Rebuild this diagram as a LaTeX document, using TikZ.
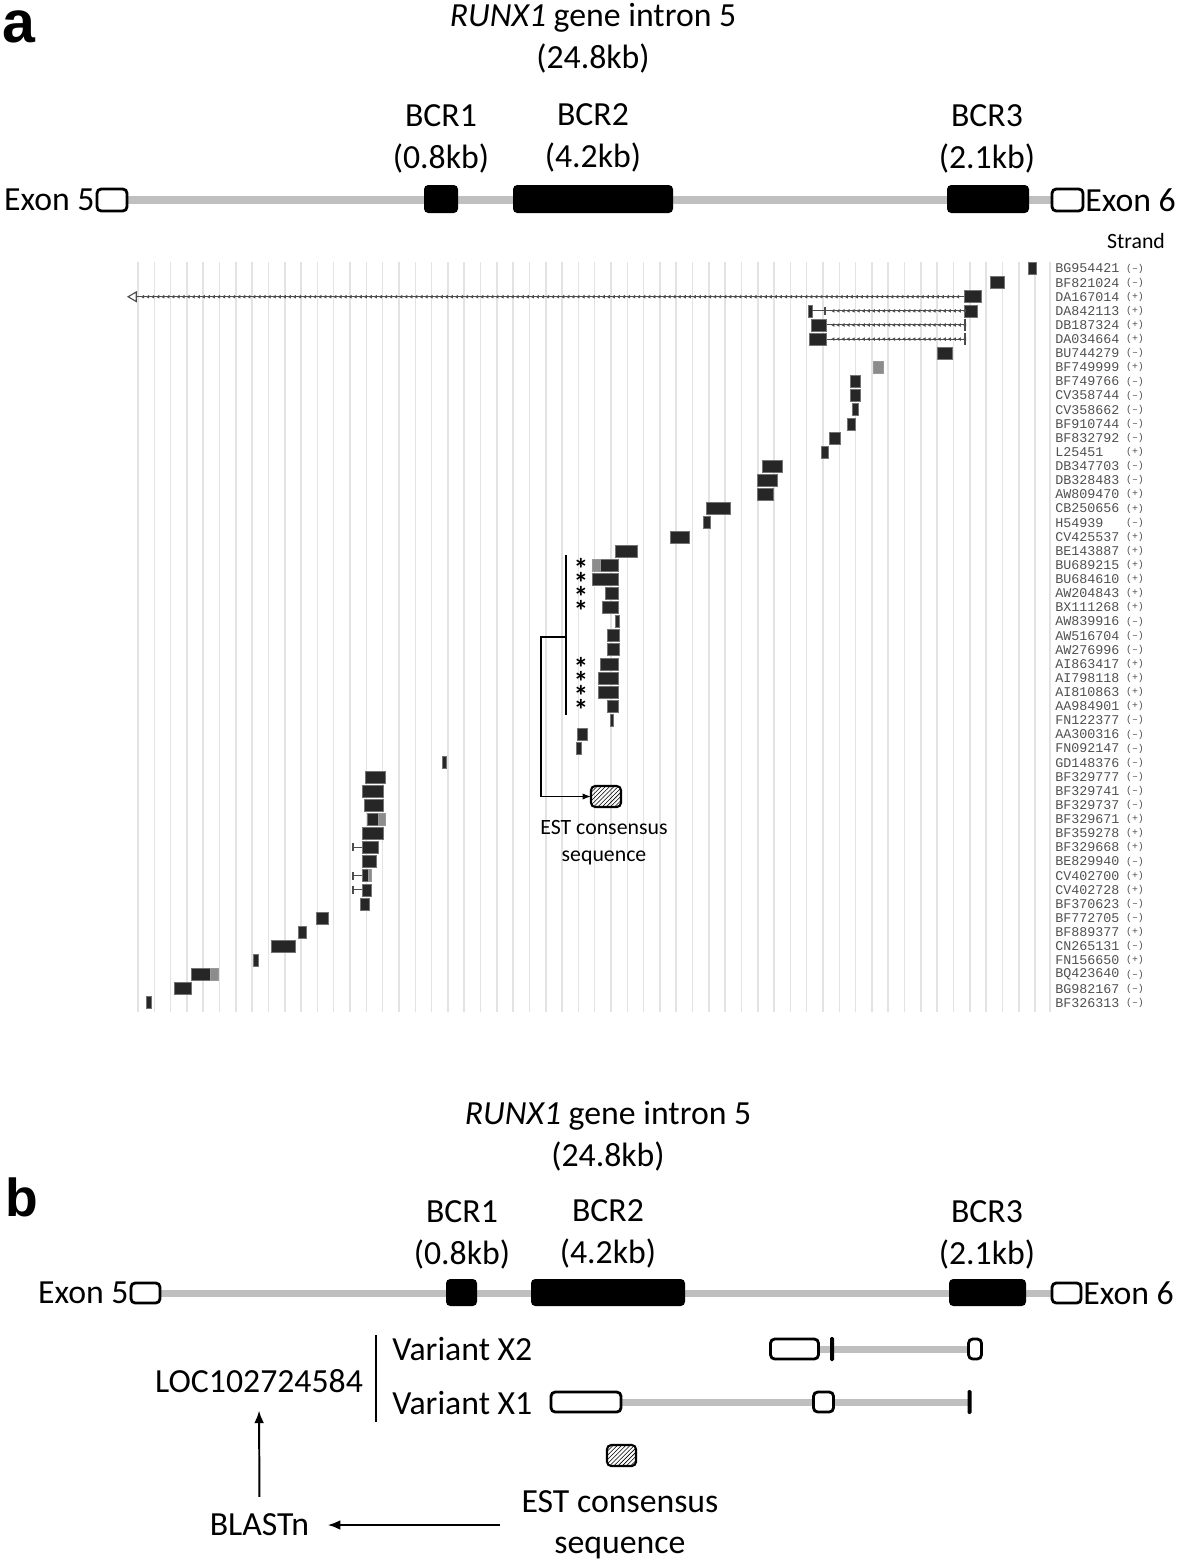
\documentclass[tikz,border=0pt]{standalone}
\usepackage{fontspec}
\setmainfont{Carlito}
\newfontfamily\accfont{Liberation Mono}
\newfontfamily\panelfont{Liberation Sans}
\usetikzlibrary{arrows.meta, positioning, calc, patterns, decorations.markings, backgrounds}

\definecolor{genegray}{HTML}{BFBFBF}
\definecolor{gridgray}{HTML}{E3E3E3}
\definecolor{accgray}{HTML}{505050}
\definecolor{bardark}{HTML}{262626}

\newcommand{\rowy}[1]{268.5+(#1-1)*14.12}

\begin{document}
\begin{tikzpicture}[
x=0.025cm, y=-0.025cm,
>=Stealth,
lbl/.style={font=\fontsize{24}{29.5}\selectfont, align=center, inner sep=0pt},
small/.style={font=\fontsize{15.5}{19}\selectfont, align=center, inner sep=0pt},
panel/.style={font=\panelfont\bfseries\fontsize{42}{42}\selectfont, inner sep=0pt},
gbox/.style n args={2}{minimum width=#1*0.025cm, minimum height=#2*0.025cm, inner sep=0pt, outer sep=0pt},
exon/.style={draw, line width=2pt, rounded corners=3pt, fill=white},
bcr/.style={fill=black, rounded corners=3pt},
intron/.style={genegray, line width=5pt},
gridline/.style={gridgray, line width=1.1pt},
estbar/.style={fill=bardark, draw=black!55, line width=0.4pt},
lightbar/.style={fill=black!45, draw=black!40, line width=0.4pt},
estline/.style={draw=black!70, line width=0.7pt, postaction={decorate, decoration={markings, mark=between positions 0.01 and 1 step 3.6pt with {\arrow{Latex[length=2.4pt,width=2.8pt]}}}}},
tick/.style={draw=black!70, line width=0.8pt},
acc/.style={font=\accfont\fontsize{9.5}{10}\selectfont, text=accgray, anchor=west, inner sep=0pt},
strand/.style={font=\accfont\fontsize{7}{8}\selectfont, text=accgray, inner sep=0pt},
star/.style={font=\fontsize{21}{21}\selectfont\bfseries, inner sep=0pt, text height=6pt, text depth=0pt},
hatch/.style={draw, line width=1.5pt, rounded corners=3pt, pattern=north east lines},
arr/.style={-{Latex[length=9pt,width=7pt]}, line width=1.4pt}
]
\useasboundingbox (0,0) rectangle (1181,1565);

% --- Panel a : gene model ---
\node[panel] (pa) at (19,27) {a};
\node[lbl] (titlea) at (593,38) {\textit{RUNX1} gene intron 5\\(24.8kb)};

\node[exon, gbox={30}{22}] (ex5a) at (112,200) {};
\node[bcr, gbox={34}{28}] (bcr1a) at (441,199) {};
\node[bcr, gbox={160}{28}] (bcr2a) at (593,199) {};
\node[bcr, gbox={82}{28}] (bcr3a) at (988,199) {};
\node[exon, gbox={31}{22}] (ex6a) at (1067.5,200) {};
\begin{pgfonlayer}{background}
\draw[intron] (ex5a.east) -- (ex6a.west);
\end{pgfonlayer}

\node[lbl, left=1.5pt of ex5a] (ex5lbla) {Exon 5};
\node[lbl, right=1.5pt of ex6a] (ex6lbla) {Exon 6};
\node[lbl] (bcr1lbla) at (441,139) {BCR1\\(0.8kb)};
\node[lbl] (bcr2lbla) at (593,138) {BCR2\\(4.2kb)};
\node[lbl] (bcr3lbla) at (987,139) {BCR3\\(2.1kb)};
\node[small] (strandhd) at (1136,241) {Strand};

% --- EST alignment grid ---
\foreach \k in {0,...,55}
  \draw[gridline] ({138+\k*16.31},262) -- ({138+\k*16.31},1012);
\draw[gridline] (1050,262) -- (1050,1012);

% --- EST hits (name / strand / start / end) ---
\foreach \nm/\st/\xa/\xb [count=\i] in {
BG954421/–/1028/1036, BF821024/–/990/1004, DA167014/+/964/981,
DA842113/+/964/977, DB187324/+/811/826, DA034664/+/809/826,
BU744279/–/937/952, BF749999/+/873/883, BF749766/–/850/860,
CV358744/–/850/860, CV358662/–/852/858, BF910744/–/847/855,
BF832792/–/829/840, L25451/+/821/828, DB347703/–/762/782,
DB328483/–/757/777, AW809470/+/757/773, CB250656/+/706/730,
H54939/–/703/710, CV425537/+/670/689, BE143887/+/615/637,
BU689215/+/592/618, BU684610/+/592/618, AW204843/+/605/618,
BX111268/+/602/618, AW839916/–/615/619, AW516704/–/607/619,
AW276996/–/607/619, AI863417/+/600/618, AI798118/+/598/618,
AI810863/+/598/618, AA984901/+/607/618, FN122377/–/610/613,
AA300316/–/577/587, FN092147/–/576/581, GD148376/–/442/446,
BF329777/–/365/385, BF329741/–/362/383, BF329737/–/364/383,
BF329671/+/367/385, BF359278/+/362/383, BF329668/+/362/378,
BE829940/–/362/376, CV402700/+/362/371, CV402728/+/362/371,
BF370623/–/360/369, BF772705/–/316/328, BF889377/+/298/306,
CN265131/–/271/295, FN156650/+/253/258, BQ423640/–/191/218,
BG982167/–/174/191, BF326313/–/146/151}{
  \path[estbar] (\xa,{\rowy{\i}-6}) rectangle (\xb,{\rowy{\i}+6});
  \node[acc] (acc\i) at (1055,{\rowy{\i}}) {\nm};
  \node[strand] (str\i) at (1135,{\rowy{\i}}) {(\st)};
}

% lighter pieces
\path[lightbar] (873,{\rowy{8}-6}) rectangle (883,{\rowy{8}+6});
\path[lightbar] (592,{\rowy{22}-6}) rectangle (600,{\rowy{22}+6});
\path[lightbar] (378,{\rowy{40}-6}) rectangle (385,{\rowy{40}+6});
\path[lightbar] (368,{\rowy{44}-6}) rectangle (371,{\rowy{44}+6});
\path[lightbar] (210,{\rowy{51}-6}) rectangle (218,{\rowy{51}+6});
\path[estbar] (808,{\rowy{4}-6}) rectangle (812,{\rowy{4}+6});

% spliced ESTs
\draw[estline] (964,{\rowy{3}}) -- (138,{\rowy{3}});
\draw[tick, -{Triangle[open,length=7pt,width=8pt]}] (146,{\rowy{3}}) -- (127,{\rowy{3}});
\draw[tick] (812,{\rowy{4}}) -- (825,{\rowy{4}});
\draw[tick] (825,{\rowy{4}-4}) -- (825,{\rowy{4}+4});
\draw[estline] (964,{\rowy{4}}) -- (826,{\rowy{4}});
\foreach \r in {5,6}{
  \draw[estline] (964,{\rowy{\r}}) -- (827,{\rowy{\r}});
  \draw[tick] (965,{\rowy{\r}-6}) -- (965,{\rowy{\r}+6});
}
\foreach \r in {42,44,45}{
  \draw[tick] (362,{\rowy{\r}}) -- (353,{\rowy{\r}});
  \draw[tick] (353,{\rowy{\r}-4}) -- (353,{\rowy{\r}+4});
}

% --- EST cluster and consensus ---
\foreach \r in {22,23,24,25,29,30,31,32}
  \node[star] (ast\r) at (581,{\rowy{\r}+10}) {*};
\coordinate (brtop) at (566,555);
\coordinate (brbot) at (566,715);
\coordinate (brmid) at (566,637);
\node[hatch, gbox={30}{21}] (esta) at (606,796.5) {};
\node[small] (estlbla) at (604,843) {EST consensus\\sequence};
\draw[line width=1pt] (brtop) -- (brbot);
\draw[line width=1pt, -{Latex[length=6pt,width=4.5pt]}] (brmid) -- ++(-25,0) |- (esta.west);

% --- Panel b : gene model ---
\node[panel, font=\panelfont\bfseries\fontsize{38}{38}\selectfont] (pb) at (22,1197) {b};
\node[lbl] (titleb) at (608,1136) {\textit{RUNX1} gene intron 5\\(24.8kb)};

\node[exon, gbox={29}{20}] (ex5b) at (145.5,1293) {};
\node[bcr, gbox={31}{27}] (bcr1b) at (461.5,1292.5) {};
\node[bcr, gbox={154}{27}] (bcr2b) at (608,1292.5) {};
\node[bcr, gbox={77}{27}] (bcr3b) at (987.5,1292.5) {};
\node[exon, gbox={29}{20}] (ex6b) at (1066.5,1293) {};
\begin{pgfonlayer}{background}
\draw[intron] (ex5b.east) -- (ex6b.west);
\end{pgfonlayer}

\node[lbl, left=1.5pt of ex5b] (ex5lblb) {Exon 5};
\node[lbl, right=1.5pt of ex6b] (ex6lblb) {Exon 6};
\node[lbl] (bcr1lblb) at (462,1235) {BCR1\\(0.8kb)};
\node[lbl] (bcr2lblb) at (608,1234) {BCR2\\(4.2kb)};
\node[lbl] (bcr3lblb) at (987,1235) {BCR3\\(2.1kb)};

% --- LOC102724584 variants ---
\node[lbl, anchor=west] (vx2) at (392,1349) {Variant X2};
\node[lbl, anchor=west] (vx1) at (392,1403) {Variant X1};
\node[exon, gbox={48}{20}] (x2a) at (794.5,1349) {};
\node[bcr, gbox={4}{24}, rounded corners=1pt] (x2b) at (832,1349) {};
\node[exon, gbox={13}{20}] (x2c) at (975,1349) {};
\node[exon, gbox={70}{20}] (x1a) at (586,1402) {};
\node[exon, gbox={20}{20}] (x1c) at (823.5,1402) {};
\node[bcr, gbox={4}{24}, rounded corners=1pt] (x1b) at (969.5,1402) {};
\begin{pgfonlayer}{background}
\draw[intron] (x2a.east) -- (x2c.west);
\draw[intron] (x1a.east) -- (x1b.west);
\end{pgfonlayer}
\draw[line width=1.4pt] (376,1335) -- (376,1422);
\node[lbl] (loc) at (259,1381) {LOC102724584};

% --- BLASTn ---
\node[hatch, gbox={29}{21}] (estb) at (621.5,1455.5) {};
\node[lbl] (estlblb) at (620,1525) {EST consensus\\sequence};
\node[lbl] (blast) at (259.5,1525) {BLASTn};
\draw[arr, shorten <=15pt, shorten >=13pt] (blast.east -| estlblb.west) -- (blast.east);
\draw[arr, shorten <=12pt, shorten >=12.5pt] (blast.north) -- (loc.south);

\end{tikzpicture}
\end{document}
